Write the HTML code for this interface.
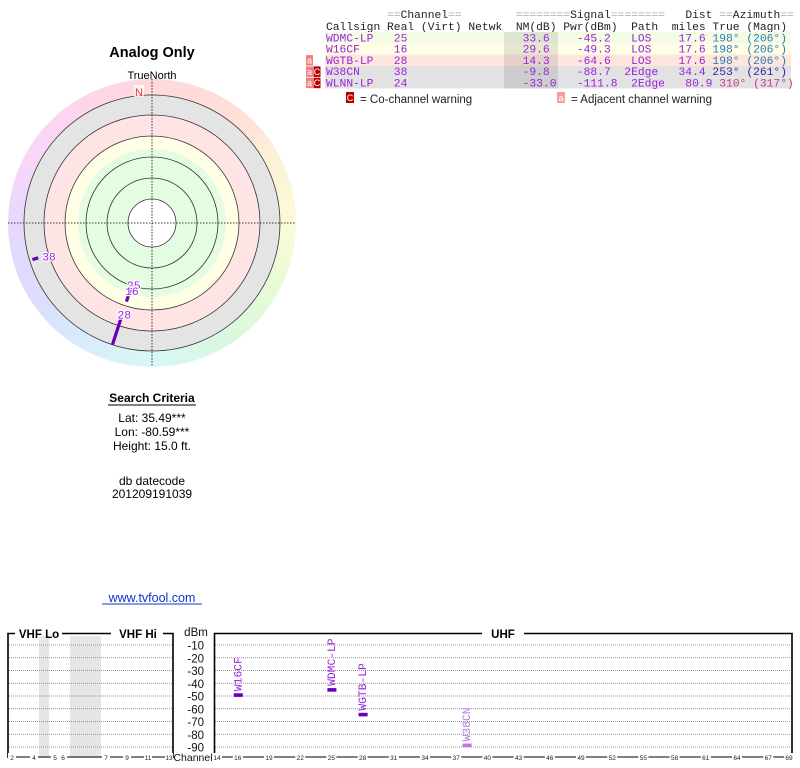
<!DOCTYPE html>
<html><head><meta charset="utf-8"><style>
html,body{margin:0;padding:0;background:#fff;}
svg{display:block;}
.mono{font-family:"Liberation Mono",monospace;font-size:11.3px;white-space:pre;}
.sans{font-family:"Liberation Sans",sans-serif;}
</style></head><body>
<svg id="root" width="800" height="768" viewBox="0 0 800 768" xmlns="http://www.w3.org/2000/svg">
<g id="polar">
  <foreignObject x="8" y="79" width="288" height="288">
    <div xmlns="http://www.w3.org/1999/xhtml" style="width:288px;height:288px;border-radius:50%;background:conic-gradient(from 0deg,#ffd8dc,#ffe2d8 45deg,#fdf0d8 60deg,#fbfbd8 90deg,#e6fad8 120deg,#d8f8e0 150deg,#d8f8f6 180deg,#d8ecfc 210deg,#dcdcfc 240deg,#e6d8fc 270deg,#fad6f8 300deg,#fdd6ec 330deg,#ffd8dc 360deg);"></div>
  </foreignObject>
  <circle cx="152" cy="223" r="128" fill="#e4e4e4" stroke="#333" stroke-width="0.8"/>
  <circle cx="152" cy="223" r="108" fill="#ffe4e6" stroke="#333" stroke-width="0.8"/>
  <circle cx="152" cy="223" r="87" fill="#ffffe6" stroke="#333" stroke-width="0.8"/>
  <circle cx="152" cy="223" r="74" fill="#e4fce2" stroke="none"/>
  <circle cx="152" cy="223" r="66" fill="none" stroke="#333" stroke-width="0.8"/>
  <circle cx="152" cy="223" r="45" fill="none" stroke="#333" stroke-width="0.8"/>
  <circle cx="152" cy="223" r="24" fill="#fff" stroke="#333" stroke-width="0.8"/>
  <line x1="8" y1="223" x2="296" y2="223" stroke="#000" stroke-width="0.8" stroke-dasharray="1.5,1.5"/>
  <line x1="152" y1="79" x2="152" y2="367" stroke="#000" stroke-width="0.8" stroke-dasharray="1.5,1.5"/>
  <text x="152" y="57" text-anchor="middle" class="sans" font-size="14.5" font-weight="bold">Analog Only</text>
  <text x="152" y="79" text-anchor="middle" class="sans" font-size="11">TrueNorth</text>
  <rect x="134" y="85" width="10" height="12" fill="#fff" opacity="0.7"/>
  <text x="139" y="96" text-anchor="middle" class="sans" font-size="11" fill="#e33">N</text>
  <g id="polar-marks"></g>
</g>

<g class="sans" font-size="12" text-anchor="middle">
  <text x="152" y="402" font-weight="bold">Search Criteria</text>
  <line x1="108" y1="405" x2="196" y2="405" stroke="#000" stroke-width="1"/>
  <text x="152" y="422">Lat: 35.49***</text>
  <text x="152" y="436">Lon: -80.59***</text>
  <text x="152" y="450">Height: 15.0 ft.</text>
  <text x="152" y="485">db datecode</text>
  <text x="152" y="498">201209191039</text>
  <text x="152" y="602" fill="#1133cc" font-size="12.5">www.tvfool.com</text>
  <line x1="102" y1="604" x2="202" y2="604" stroke="#1133cc" stroke-width="1"/>
</g>

<g id="table"></g>

<g id="spectrum"></g>
</svg>
<script>
// ---- Station data ----
const callsigns = ["WDMC-LP","W16CF","WGTB-LP","W38CN","WLNN-LP"];
const realCh = [25,16,28,38,24];
const nmDb = [33.6,29.6,14.3,-9.8,-33.0];
const pwrDbm = [-45.2,-49.3,-64.6,-88.7,-111.8];
const paths = ["LOS","LOS","LOS","2Edge","2Edge"];
const distMi = [17.6,17.6,17.6,34.4,80.9];
const azTrue = [198,198,198,253,310];
const azMagn = [206,206,206,261,317];
const adjWarn = [false,false,true,true,true];
const coWarn = [false,false,false,true,true];
const azColors = ["#2a7ab8","#2a7ab8","#2a7ab8","#3a1aa0","#cc3399"];
const rowBg = ["#f3fbe4","#fefde6","#fde6dc","#e2e2e2","#e2e2e2"];

// spectrum axis data
const dbTicks = [-10,-20,-30,-40,-50,-60,-70,-80,-90];
const vhfTicks = ["2","4","5","6","7","9","11","13"];
const uhfTicks = [14,16,19,22,25,28,31,34,37,40,43,46,49,52,55,58,61,64,67,69];

const NS = "http://www.w3.org/2000/svg";
function mk(tag, attrs, parent, txt){
  const e = document.createElementNS(NS, tag);
  for (const k in attrs) e.setAttribute(k, attrs[k]);
  if (txt !== undefined) e.textContent = txt;
  parent.appendChild(e);
  return e;
}

// ---- Table ----
const table = document.getElementById('table');
const cw = 6.78, tx0 = 326;
function pad(s,n){ s=String(s); while(s.length<n) s=" "+s; return s; }
let h1 = mk('text',{x:tx0,y:18,class:'mono',fill:'#222'},table);


h1.innerHTML = '         <tspan fill="#aaa">==</tspan>Channel<tspan fill="#aaa">==</tspan>        <tspan fill="#aaa">========</tspan>Signal<tspan fill="#aaa">========</tspan>   Dist <tspan fill="#aaa">==</tspan>Azimuth<tspan fill="#aaa">==</tspan>';
let h2 = mk('text',{x:tx0,y:30,class:'mono',fill:'#222'},table,"Callsign Real (Virt) Netwk  NM(dB) Pwr(dBm)  Path  miles True (Magn)");


for (let i=0;i<callsigns.length;i++){
  const y0 = 32 + i*11.3;
  const bg = mk('rect',{x:325,y:y0,width:466,height:11.3,fill:rowBg[i]},table);
  
  
}
mk('rect',{x:504,y:32,width:54,height:56.5,fill:'#000',opacity:'0.09'},table);
for (let i=0;i<callsigns.length;i++){
  const y0 = 32 + i*11.3;
  const base = callsigns[i].padEnd(10) + pad(realCh[i],2);
  const s1 = (base.padEnd(12) + " ".repeat(17)).slice(0,29);
  const nmS = pad(nmDb[i].toFixed(1), 33 - s1.length);
  const pwS = pad(pwrDbm[i].toFixed(1), 42 - 33);
  const pathS = paths[i]==="LOS" ? "   LOS " : "  2Edge";
  const distS = pad(distMi[i].toFixed(1), 56 - 49);
  const rowStr = s1 + nmS + pwS + pathS + distS;
  const t = mk('text',{x:tx0,y:y0+9.3,class:'mono',fill:'#9922dd'},table);
  
  
  t.textContent = rowStr;
  mk('tspan',{fill:azColors[i]},t, " "+azTrue[i]+"° ("+azMagn[i]+"°)");
  if (adjWarn[i]){
    mk('rect',{x:306,y:y0+0.5,width:7,height:10.5,fill:'#f08080'},table);
    mk('text',{x:309.5,y:y0+9,'text-anchor':'middle',class:'sans','font-size':'9',fill:'#fff'},table,'a');
  }
  if (coWarn[i]){
    mk('rect',{x:313.5,y:y0+0.5,width:7,height:10.5,fill:'#b80000'},table);
    mk('text',{x:317,y:y0+9,'text-anchor':'middle',class:'sans','font-size':'9',fill:'#fff'},table,'C');
  }
}
const lg = mk('g',{},table);


mk('rect',{x:346,y:92,width:8,height:11,fill:'#b80000'},lg);
mk('text',{x:350,y:101,'text-anchor':'middle',class:'sans','font-size':'9',fill:'#fff'},lg,'C');
mk('text',{x:360,y:103,class:'sans','font-size':'11.5',fill:'#222'},lg,'= Co-channel warning');
mk('rect',{x:557,y:92,width:8,height:11,fill:'#f4a0a0'},lg);
mk('text',{x:561,y:101,'text-anchor':'middle',class:'sans','font-size':'9',fill:'#fff'},lg,'a');
mk('text',{x:571,y:103,class:'sans','font-size':'11.5',fill:'#222'},lg,'= Adjacent channel warning');

// ---- Polar marks ----
const pm = document.getElementById('polar-marks');
const cx = 152, cy = 223;
function rScale(nm){ return Math.min(119, 124 - 1.6*nm); }
function polar(az, r){ const t = az*Math.PI/180; return [cx + r*Math.sin(t), cy - r*Math.cos(t)]; }
for (let i=0;i<callsigns.length;i++){
  if (nmDb[i] < -20) continue;
  const r0 = rScale(nmDb[i]);
  const r1 = nmDb[i] > 0 && nmDb[i] < 20 ? 128 : r0 + 6;
  const p0 = polar(azTrue[i], r0), p1 = polar(azTrue[i], Math.min(r1,129));
  const ln = mk('line',{x1:p0[0],y1:p0[1],x2:p1[0],y2:p1[1],stroke:'#6600bb','stroke-width':3.2},pm);
  
  
  const pl = polar(azTrue[i], r0 - 5);
  const lab = mk('text',{x:pl[0]+ (azTrue[i]>240?6:2),y:pl[1]+4,'text-anchor':'middle',class:'mono','font-size':'10.5',fill:'#9922dd',stroke:'#fff','stroke-width':2.2,'paint-order':'stroke'},pm,String(realCh[i]));
  
  
}

// ---- Spectrum ----
const sp = document.getElementById('spectrum');
function yDb(d){ return 645 + (-10 - d)*1.275; }
function xUhf(ch){ return 217 + (ch-14)*(572/55); }
const vhfX = {"2":12,"4":34,"5":55,"6":63,"7":106,"9":127,"11":148,"13":169};
function xVhf(ch){ return vhfX[String(ch)]; }
mk('rect',{x:39,y:636,width:10,height:122,fill:'#e6e6e6'},sp);
mk('rect',{x:70,y:636,width:31,height:122,fill:'#e6e6e6'},sp);
dbTicks.forEach(d=>{
  const y = yDb(d);
  const g1 = mk('line',{x1:9,y1:y,x2:172,y2:y,stroke:'#777','stroke-width':0.8,'stroke-dasharray':'1,1'},sp);
  
  
  const g2 = mk('line',{x1:215,y1:y,x2:791,y2:y,stroke:'#777','stroke-width':0.8,'stroke-dasharray':'1,1'},sp);
  
  
  const tl = mk('text',{x:204,y:y+4.5,'text-anchor':'end',class:'sans','font-size':'11.5',fill:'#111'},sp,String(d));
  
  
});
const dbm = mk('text',{x:196,y:636,'text-anchor':'middle',class:'sans','font-size':'11.5',fill:'#111'},sp,'dBm');


const vf = mk('path',{d:'M8 758 V633.5 H15 M62 633.5 H111 M163 633.5 H173 V758',fill:'none',stroke:'#000','stroke-width':1.6},sp);


const uf = mk('path',{d:'M214.5 758 V633.5 H482 M524 633.5 H792 V758',fill:'none',stroke:'#000','stroke-width':1.6},sp);


const t1 = mk('text',{x:39,y:638,'text-anchor':'middle',class:'sans','font-size':'11.5','font-weight':'bold'},sp,'VHF Lo');
 
const t2 = mk('text',{x:138,y:638,'text-anchor':'middle',class:'sans','font-size':'11.5','font-weight':'bold'},sp,'VHF Hi');
 
const t3 = mk('text',{x:503,y:638,'text-anchor':'middle',class:'sans','font-size':'11.5','font-weight':'bold'},sp,'UHF');
 
mk('line',{x1:8,y1:757,x2:173,y2:757,stroke:'#000','stroke-width':1},sp);
mk('line',{x1:214,y1:757,x2:792,y2:757,stroke:'#000','stroke-width':1},sp);
const ch = mk('text',{x:193,y:761,'text-anchor':'middle',class:'sans','font-size':'10.5',fill:'#111'},sp,'Channel');
 
vhfTicks.forEach(c=>{
  const x = xVhf(c);
  mk('rect',{x:x-4,y:753,width:8,height:8,fill:'#fff'},sp);
  const l = mk('text',{x:x,y:760,'text-anchor':'middle',class:'sans','font-size':'6.5',fill:'#222'},sp,c);
   
});
uhfTicks.forEach(c=>{
  const x = xUhf(c);
  mk('rect',{x:x-5,y:753,width:10,height:8,fill:'#fff'},sp);
  const l = mk('text',{x:x,y:760,'text-anchor':'middle',class:'sans','font-size':'6.5',fill:'#222'},sp,String(c));
   
});
for (let i=0;i<callsigns.length;i++){
  if (pwrDbm[i] < -95) continue;
  const x = xUhf(realCh[i]), y = yDb(pwrDbm[i]);
  const weak = nmDb[i] < 0;
  const col = weak ? '#bb77dd' : '#6600bb';
  const b = mk('rect',{x:x-4,y:y-1.8,width:9,height:3.6,fill:col},sp);
  
  
  const tx = x+3.5, ty = y-4;
  const lb = mk('text',{x:tx,y:ty,transform:'rotate(-90 '+tx+' '+ty+')',class:'mono','font-size':'11',fill:weak?'#bb77dd':'#9922dd'},sp,callsigns[i]);
  
  
}
</script>
</body></html>
